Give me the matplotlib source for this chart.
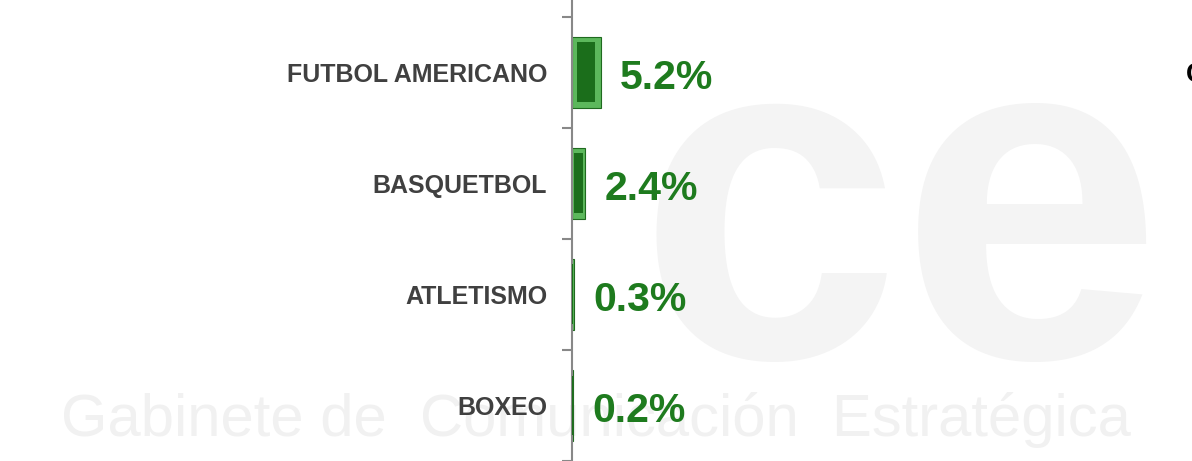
import matplotlib.pyplot as plt
import numpy as np

# data
categories = ['FUTBOL AMERICANO', 'BASQUETBOL', 'ATLETISMO', 'BOXEO']
values = [5.2, 2.4, 0.3, 0.2]
value_labels = ['5.2%', '2.4%', '0.3%', '0.2%']

fig = plt.figure(figsize=(11.92, 4.61), dpi=100)
fig.patch.set_facecolor('white')

# faint watermark behind everything
fig.text(0.535, 0.49, 'ce', fontsize=340, fontweight='bold', color='#f4f4f4',
         ha='left', va='center', family='Liberation Sans', zorder=-1)
fig.text(0.5, 0.09, 'Gabinete de  Comunicación  Estratégica', fontsize=43,
         color='#f1f1f1', ha='center', va='center', family='Liberation Sans', zorder=-1)

ax = fig.add_axes([572 / 1192, 0, 1 - 572 / 1192, 1])
ax.patch.set_alpha(0)

y = np.arange(len(categories))

# bevelled bars: light outer shell, darker core
ax.barh(y, values, height=0.64, color='#5cb85c', edgecolor='#1f6a1f', linewidth=0.8, zorder=2)
vals = np.array(values)
ax.barh(y, vals * 0.64, left=vals * 0.18, height=0.54, color='#1b6e1b', linewidth=0, zorder=3)

for yi, v, lab in zip(y, values, value_labels):
    ax.annotate(lab, xy=(v, yi), xytext=(14, -12), textcoords='offset points',
                ha='left', va='baseline', fontsize=29.5, fontweight='bold',
                color='#1e7b1e', family='Liberation Sans')

ax.set_xlim(0, 620 / 5.5)
ax.set_ylim(3.357, -0.652)

for s in ['top', 'right', 'bottom']:
    ax.spines[s].set_visible(False)
ax.spines['left'].set_color('#888888')
ax.spines['left'].set_linewidth(1.5)

ax.set_xticks([])
ax.set_yticks(y)
ax.set_yticklabels(categories, fontsize=18, fontweight='bold', color='#404040',
                   family='Liberation Sans', va='center_baseline')
ax.tick_params(axis='y', which='major', length=0, pad=18)
ax.set_yticks(np.arange(-0.5, len(categories), 1.0), minor=True)
ax.tick_params(axis='y', which='minor', length=7.5, width=1.5, color='#888888')

# cut-off letter at the right edge
fig.text(1186 / 1192, 1 - 75 / 461, 'C', fontsize=20, fontweight='bold', color='black',
         ha='left', va='center', family='Liberation Sans')

fig.savefig('out.png', dpi=100)
